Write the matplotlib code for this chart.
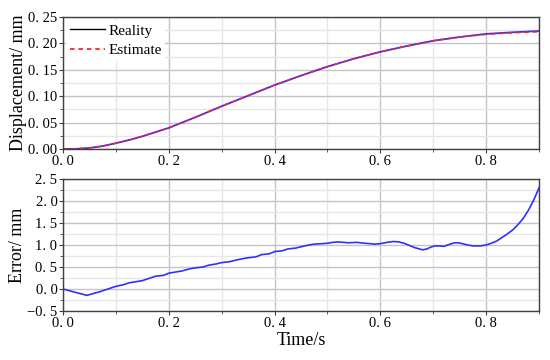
import matplotlib
matplotlib.use("Agg")
import matplotlib.pyplot as plt
from matplotlib.lines import Line2D
from matplotlib.ticker import MultipleLocator, FixedLocator, FixedFormatter

plt.rcParams['font.family'] = ['Liberation Serif', 'DejaVu Serif']

# Displacement data (mm)
t_disp = [0.0, 0.025, 0.05, 0.075, 0.1, 0.125, 0.15, 0.175, 0.2, 0.25, 0.3, 0.35, 0.4,
          0.45, 0.5, 0.55, 0.6, 0.65, 0.7, 0.75, 0.8, 0.85, 0.9]
reality = [0.0, 0.0003, 0.002, 0.0055, 0.011, 0.017, 0.024, 0.032, 0.040, 0.060, 0.081,
           0.101, 0.121, 0.139, 0.156, 0.171, 0.184, 0.195, 0.205, 0.212, 0.218, 0.221, 0.2235]
estimate = [0.0, 0.0003, 0.002, 0.0055, 0.011, 0.017, 0.024, 0.032, 0.040, 0.060, 0.081,
            0.101, 0.121, 0.139, 0.156, 0.171, 0.184, 0.195, 0.205, 0.212, 0.217, 0.220, 0.222]

# Error data (mm)
t_err = [0.0, 0.045, 0.07, 0.09, 0.10, 0.115, 0.125, 0.14, 0.15, 0.165, 0.175, 0.19, 0.20,
         0.215, 0.225, 0.24, 0.25, 0.265, 0.275, 0.29, 0.30, 0.315, 0.325, 0.34, 0.35,
         0.365, 0.375, 0.39, 0.40, 0.415, 0.425, 0.44, 0.45, 0.465, 0.475, 0.49, 0.50,
         0.51, 0.52, 0.53, 0.54, 0.555, 0.57, 0.58, 0.59, 0.60, 0.613, 0.625, 0.635,
         0.645, 0.655, 0.665, 0.68, 0.688, 0.695, 0.703, 0.71, 0.72, 0.73, 0.74, 0.748,
         0.755, 0.765, 0.775, 0.79, 0.80, 0.81, 0.82, 0.83, 0.84, 0.85, 0.86, 0.87,
         0.88, 0.89, 0.90]
error = [0.0, -0.145, -0.06, 0.02, 0.06, 0.10, 0.14, 0.17, 0.19, 0.25, 0.29, 0.31, 0.36,
         0.39, 0.41, 0.46, 0.48, 0.50, 0.54, 0.57, 0.60, 0.62, 0.65, 0.69, 0.71,
         0.73, 0.78, 0.80, 0.85, 0.87, 0.91, 0.93, 0.96, 1.00, 1.02, 1.03, 1.04,
         1.06, 1.07, 1.06, 1.05, 1.06, 1.04, 1.03, 1.02, 1.03, 1.06, 1.08, 1.07,
         1.04, 0.99, 0.94, 0.89, 0.91, 0.95, 0.98, 0.98, 0.97, 1.01, 1.05, 1.05,
         1.03, 1.00, 0.98, 0.98, 1.00, 1.04, 1.09, 1.17, 1.25, 1.34, 1.46, 1.60,
         1.79, 2.02, 2.30]

x_ticks = [0.0, 0.2, 0.4, 0.6, 0.8]
x_labels = ["0. 0", "0. 2", "0. 4", "0. 6", "0. 8"]
y1_ticks = [0.0, 0.05, 0.10, 0.15, 0.20, 0.25]
y1_labels = ["0. 00", "0. 05", "0. 10", "0. 15", "0. 20", "0. 25"]
y2_ticks = [-0.5, 0.0, 0.5, 1.0, 1.5, 2.0, 2.5]
y2_labels = ["\u22120. 5", "0. 0", "0. 5", "1. 0", "1. 5", "2. 0", "2. 5"]

fig = plt.figure(figsize=(5.5, 3.6), dpi=100)
ax1 = fig.add_axes([63/550, 1-149/360, 476/550, 132/360])
ax2 = fig.add_axes([63/550, 1-311/360, 476/550, 132/360])

FS = 10.5
spine_c = '#404040'

def style(ax, yticks, ylabels, yminor):
    ax.set_xlim(0, 0.9)
    ax.set_ylim(yticks[0], yticks[-1])
    ax.xaxis.set_major_locator(FixedLocator(x_ticks))
    ax.xaxis.set_major_formatter(FixedFormatter(x_labels))
    ax.xaxis.set_minor_locator(MultipleLocator(0.1))
    ax.yaxis.set_major_locator(FixedLocator(yticks))
    ax.yaxis.set_major_formatter(FixedFormatter(ylabels))
    ax.yaxis.set_minor_locator(MultipleLocator(yminor))
    ax.grid(True, which='major', color='#c4c4c4', linewidth=1.0)
    ax.grid(True, which='minor', color='#e6e6e6', linewidth=1.0)
    ax.set_axisbelow(True)
    for s in ax.spines.values():
        s.set_color(spine_c)
        s.set_linewidth(1.0)
    ax.tick_params(which='major', direction='out', length=3, width=0.8, color=spine_c,
                   labelsize=FS, pad=1)
    ax.tick_params(which='minor', direction='out', length=2, width=0.6, color=spine_c)

style(ax1, y1_ticks, y1_labels, 0.025)
style(ax2, y2_ticks, y2_labels, 0.25)

ax1.plot(t_disp, reality, color='#3030ff', linewidth=1.3)
ax1.plot(t_disp, estimate, color='#ff2020', linewidth=1.1, linestyle=(0, (3, 2.5)))
handles = [Line2D([], [], color='black', linewidth=1.0),
           Line2D([], [], color='red', linewidth=1.1, linestyle=(0, (3, 2.5)))]
leg = ax1.legend(handles, ['Reality', 'Estimate'], loc='upper left', fontsize=FS + 0.5,
                 frameon=True, framealpha=1, edgecolor='none', facecolor='white',
                 handlelength=2.3, handletextpad=0.2, borderaxespad=0.2,
                 borderpad=0.25, labelspacing=0.4)
leg.get_frame().set_linewidth(0)

ax2.plot(t_err, error, color='#3030ff', linewidth=1.2)

ax1.set_ylabel('Displacement/ mm', fontsize=13, labelpad=1)
ax2.set_ylabel('Error/ mm', fontsize=13, labelpad=1)
ax2.set_xlabel('Time/s', fontsize=13, labelpad=2)

fig.savefig('out.png', dpi=100)
